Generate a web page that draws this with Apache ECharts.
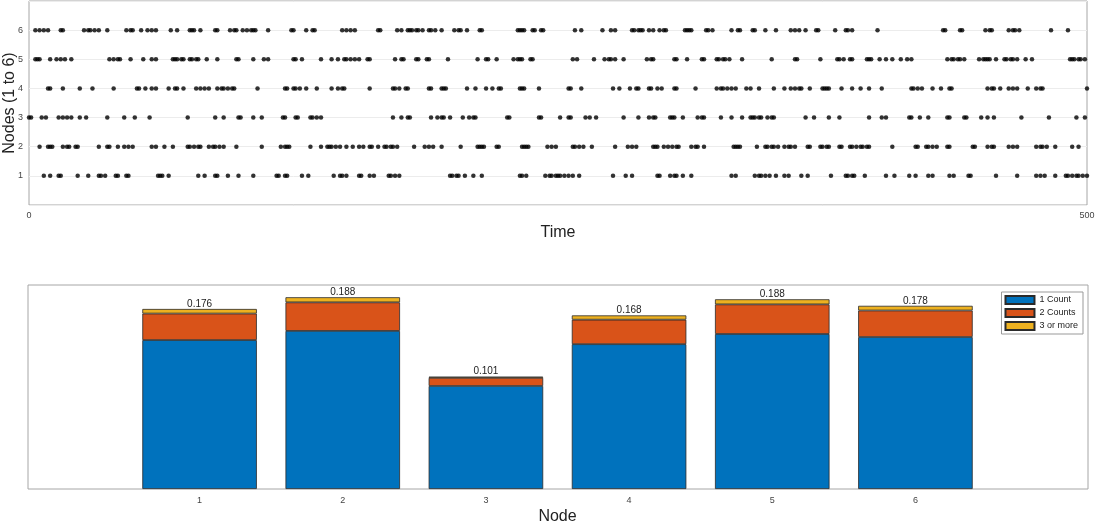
<!DOCTYPE html>
<html>
<head>
<meta charset="utf-8">
<script src="https://cdn.jsdelivr.net/npm/echarts@6/dist/echarts.min.js"></script>
<style>
  html, body { margin: 0; padding: 0; background: #fff; }
  #main { width: 1096px; height: 523px; }
</style>
</head>
<body>
<div id="main"></div>
<script>
// spike times for each node
const node1Times = [7,10,14,15,23,28,33,34,36,41,42,46,47,61,62,63,66,80,83,88,89,94,99,106,117,118,121,122,129,132,144,147,148,150,156,157,161,163,170,171,173,175,199,200,202,203,206,210,214,232,233,235,244,246,247,249,250,251,253,255,257,260,276,282,285,297,298,303,305,306,309,313,332,334,343,345,346,348,350,353,357,359,365,368,379,386,387,389,390,395,405,409,416,419,425,427,435,437,444,445,457,467,476,478,480,485,490,491,493,495,496,498,500];
const node2Times = [5,9,10,11,16,18,19,22,23,33,37,38,42,45,47,49,58,60,64,68,75,76,78,80,81,85,87,88,90,92,98,110,119,121,122,123,133,138,141,142,143,145,147,150,153,156,158,161,162,165,168,169,171,172,174,182,187,189,191,195,204,212,213,214,215,221,222,233,234,235,236,245,247,249,257,258,260,262,266,277,283,285,287,295,296,297,300,302,304,306,307,313,315,316,319,333,334,335,336,344,348,349,351,352,354,357,359,360,362,368,369,374,375,377,378,383,384,388,389,391,393,394,396,397,408,419,420,424,425,427,429,434,435,446,447,453,455,456,463,465,467,476,478,479,481,485,493,496];
const node3Times = [0,1,6,8,14,16,18,20,24,27,37,45,50,57,75,88,92,99,100,106,110,120,121,126,127,133,134,136,138,172,176,179,180,190,193,195,196,199,205,208,210,211,226,227,241,242,251,255,256,263,265,268,281,288,293,295,296,303,304,305,309,316,318,319,327,332,337,341,342,343,345,346,349,351,352,367,371,378,383,397,403,405,416,417,421,425,434,435,442,443,450,453,456,469,482,495,499];
const node4Times = [9,10,16,24,30,40,51,52,55,58,60,66,69,70,73,79,81,83,85,89,91,92,94,96,97,108,121,122,125,126,128,131,136,143,146,148,149,161,172,173,175,178,179,189,190,195,196,197,207,211,216,219,222,223,232,233,234,241,255,256,261,276,279,284,287,288,293,294,297,299,305,306,315,325,327,328,330,332,334,339,341,345,352,357,360,362,364,365,369,375,376,377,378,384,389,393,397,403,417,418,420,422,427,431,435,436,453,455,456,459,463,465,467,472,476,478,479,500];
const node5Times = [3,4,5,10,13,15,17,20,38,40,42,43,48,54,58,60,68,69,70,72,73,76,77,79,80,84,89,98,99,106,111,113,125,126,129,138,143,146,149,150,152,154,156,160,161,173,176,177,183,184,188,189,198,212,216,217,221,229,231,232,233,237,238,257,259,267,272,274,275,277,281,292,294,295,305,306,311,318,319,325,326,328,329,331,337,351,362,363,374,382,383,385,388,389,396,397,398,402,405,408,412,415,417,434,436,437,439,440,442,449,451,452,453,454,457,461,462,464,465,467,471,474,492,493,494,496,497,499];
const node6Times = [3,5,7,9,15,16,26,28,29,31,33,37,46,48,49,53,56,58,60,67,70,76,77,78,81,88,89,95,97,98,101,103,105,106,107,113,124,125,131,134,135,148,150,152,154,165,166,174,176,179,180,181,183,184,186,189,190,192,195,201,203,204,207,213,214,231,232,233,234,238,239,242,243,258,261,271,275,277,285,286,288,289,290,293,295,298,300,301,310,311,312,313,320,321,323,332,335,336,342,343,348,353,360,362,364,367,372,373,381,386,387,389,401,432,433,440,441,452,454,455,463,465,466,468,483,491];

const nodes = [1, 2, 3, 4, 5, 6];
const timeTicks = [0, 500];

// stacked bar parts per node
const oneCount = [0.146, 0.155, 0.101, 0.142, 0.152, 0.149];
const twoCounts = [0.026, 0.028, 0.008, 0.024, 0.029, 0.026];
const threeOrMore = [0.0045, 0.005, 0.0012, 0.0042, 0.005, 0.0046];
const barLabels = ['0.176', '0.188', '0.101', '0.168', '0.188', '0.178'];

const allTimes = [node1Times, node2Times, node3Times, node4Times, node5Times, node6Times];

const FONT = '"Liberation Sans", Arial, sans-serif';
const tickColor = '#444';
const titleColor = '#222';
const boxColor = '#a6a6a6';

const chart = echarts.init(document.getElementById('main'));

//raster series, one per node
const rasterSeries = allTimes.map((ts, i) => ({
  type: 'scatter',
  xAxisIndex: 0,
  yAxisIndex: 0,
  symbol: 'circle',
  symbolSize: 4.5,
  itemStyle: { color: '#000' },
  silent: true,
  data: ts.map(t => [t, nodes[i]])
}));

const barPart = (name, values, color, withLabel) => ({
  type: 'bar',
  name: name,
  xAxisIndex: 1,
  yAxisIndex: 1,
  stack: 'total',
  barWidth: '80%',
  itemStyle: { color: color, borderColor: '#2a2a2a', borderWidth: 0.8 },
  label: withLabel ? {
    show: true,
    position: 'top',
    distance: 0,
    fontFamily: FONT,
    fontSize: 10,
    color: titleColor,
    formatter: p => barLabels[p.dataIndex]
  } : { show: false },
  data: values
});

const hidden = { show: false };
const axisName = { fontSize: 16, color: titleColor };

chart.setOption({
  animation: false,
  textStyle: { fontFamily: FONT },
  grid: [
    // raster
    { left: 29, right: 9, top: 1, height: 204, show: true, borderColor: boxColor, borderWidth: 1, outerBoundsMode: 'none' },
    // bar bands, six nodes centred in the box
    { left: 128, width: 859, top: 285, height: 204, outerBoundsMode: 'none' },
    // box around the bar plot
    { left: 28, right: 8, top: 285, height: 204, show: true, borderColor: boxColor, borderWidth: 1, outerBoundsMode: 'none' }
  ],
  legend: {
    right: 13,
    top: 292,
    orient: 'vertical',
    itemWidth: 29,
    itemHeight: 8,
    itemGap: 3,
    padding: [3, 5, 3, 3],
    borderColor: '#999',
    borderWidth: 1,
    icon: 'rect',
    textStyle: { fontFamily: FONT, fontSize: 9, color: titleColor },
    data: ['1 Count', '2 Counts', '3 or more']
  },
  xAxis: [
    {
      gridIndex: 0,
      type: 'value',
      min: timeTicks[0],
      max: timeTicks[1],
      interval: 500,
      name: 'Time',
      nameLocation: 'middle',
      nameGap: 20,
      nameMoveOverlap: false,
      nameTextStyle: axisName,
      axisLine: hidden,
      axisTick: hidden,
      splitLine: hidden,
      axisLabel: { fontSize: 9, color: tickColor, margin: 6 }
    },
    {
      gridIndex: 1,
      type: 'category',
      data: nodes,
      name: 'Node',
      nameLocation: 'middle',
      nameGap: 20,
      nameMoveOverlap: false,
      nameTextStyle: axisName,
      axisLine: hidden,
      axisTick: hidden,
      splitLine: hidden,
      axisLabel: { fontSize: 9, color: tickColor, margin: 7 }
    },
    { gridIndex: 2, type: 'value', axisLine: hidden, axisTick: hidden, splitLine: hidden, axisLabel: hidden }
  ],
  yAxis: [
    {
      gridIndex: 0,
      type: 'value',
      min: 0,
      max: 7,
      interval: 1,
      name: 'Nodes (1 to 6)',
      nameLocation: 'middle',
      nameGap: 11,
      nameMoveOverlap: false,
      nameTextStyle: axisName,
      axisLine: hidden,
      axisTick: hidden,
      splitLine: { show: true, lineStyle: { color: '#ececec', width: 1 } },
      axisLabel: {
        fontSize: 9,
        color: tickColor,
        margin: 6,
        formatter: v => (nodes.indexOf(v) >= 0 ? String(v) : '')
      }
    },
    {
      gridIndex: 1,
      type: 'value',
      min: 0,
      max: 0.2,
      axisLine: hidden,
      axisTick: hidden,
      splitLine: hidden,
      axisLabel: hidden
    },
    { gridIndex: 2, type: 'value', axisLine: hidden, axisTick: hidden, splitLine: hidden, axisLabel: hidden }
  ],
  series: [
    ...rasterSeries,
    barPart('1 Count', oneCount, '#0072BD', false),
    barPart('2 Counts', twoCounts, '#D95319', false),
    barPart('3 or more', threeOrMore, '#EDB120', true)
  ]
});
</script>
</body>
</html>
